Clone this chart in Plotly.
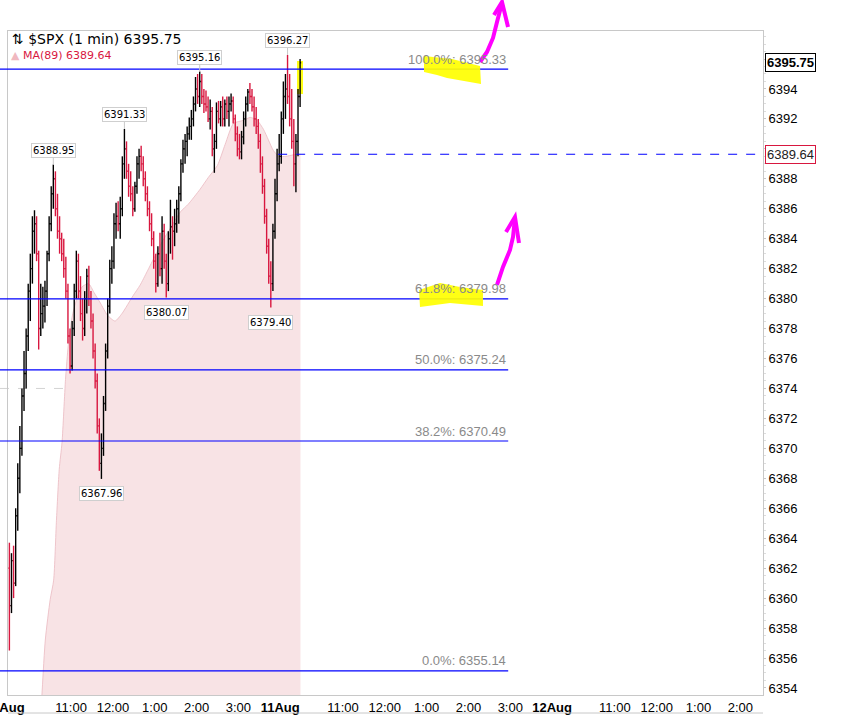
import plotly.graph_objects as go

# ---------------- data ----------------
day1_bars = 130          # 3-minute bars read from 8Aug session
day2_bars = 10           # 3-minute bars read from 11Aug session start
bar_minutes = [i * 3 + 1.5 for i in range(day1_bars)] + [390 + j * 3 + 1.5 for j in range(day2_bars)]

opens = [6362, 6359.5, 6362.5, 6361, 6365.5, 6368, 6370, 6373.5, 6375, 6377.5,
         6380.5, 6382, 6384.5, 6385, 6383, 6378, 6379, 6379.5, 6380.5, 6383,
         6385, 6387, 6388, 6386, 6384.5, 6384, 6383, 6382, 6380.5, 6377.5,
         6375.5, 6378, 6380.5, 6382.5, 6380.5, 6379, 6378, 6380, 6381.5, 6380,
         6378.5, 6376.5, 6374.5, 6371.5, 6369, 6370, 6373, 6376.5, 6379.5, 6382,
         6382.5, 6385, 6385.5, 6385, 6386, 6389, 6390, 6388.5, 6387.5, 6387,
         6386, 6387.5, 6389, 6389.5, 6389, 6388, 6387, 6386, 6385, 6384,
         6382.5, 6381, 6383, 6382, 6384.5, 6382.5, 6381, 6384, 6384.8, 6384.5,
         6385, 6386, 6387, 6389, 6390, 6390.5, 6391, 6391.5, 6392, 6393,
         6394, 6393.5, 6394.5, 6393.5, 6393, 6392.8, 6392, 6392.5, 6390, 6390.5,
         6392.5, 6392, 6392.8, 6392, 6393, 6392.5, 6393, 6393.2, 6392, 6391,
         6390, 6389.8, 6390.8, 6392, 6393, 6393.8, 6393.5, 6392.8, 6392, 6391.5,
         6390.5, 6389, 6387.5, 6385.5, 6383.5, 6381.5, 6381, 6384.5, 6387, 6389,
         6389.5, 6392, 6393.5, 6394, 6393.5, 6392, 6390.5, 6389, 6390.5, 6393.5]
highs = [6363.7, 6363, 6363.5, 6366, 6369, 6371.5, 6374, 6376.5, 6378, 6381,
         6383, 6385.5, 6385.9, 6385.5, 6383.2, 6381, 6380.8, 6381.2, 6383.2, 6385.5,
         6387.5, 6388.95, 6388.5, 6387, 6385.5, 6384.4, 6384, 6382.8, 6381, 6378,
         6378.5, 6381, 6383.2, 6383, 6381.5, 6380, 6380.5, 6382, 6382.2, 6380.5,
         6379, 6377, 6375, 6372, 6371, 6373.5, 6377, 6380, 6382.6, 6383.5,
         6385.7, 6386.4, 6386.5, 6386.8, 6389.5, 6391.33, 6390.5, 6389, 6388.5, 6387.5,
         6387.8, 6389.5, 6390, 6390.2, 6389.5, 6388.5, 6387.5, 6386.5, 6385.7, 6384.5,
         6383, 6383.5, 6384.4, 6385.5, 6385, 6383, 6384.5, 6386.6, 6385.5, 6386,
         6386.6, 6387.5, 6389.3, 6390.6, 6391, 6391.5, 6392.1, 6392.6, 6393.5, 6394.8,
         6395, 6395.16, 6395, 6394, 6393.9, 6393.5, 6393.3, 6392.8, 6391, 6393.1,
         6393.2, 6393.2, 6393.5, 6393.3, 6393.5, 6393.5, 6393.7, 6393.5, 6392.3, 6391.5,
         6391, 6391.2, 6392.5, 6393.5, 6394, 6394.4, 6394, 6393.5, 6392.8, 6392,
         6391, 6389.5, 6388, 6386, 6384, 6382.5, 6385, 6388, 6390, 6391,
         6392.5, 6394.5, 6395, 6396.27, 6395, 6394, 6392, 6391, 6394, 6396]
lows = [6356.5, 6359, 6360, 6360.8, 6364.5, 6367, 6369.5, 6372.5, 6374, 6376.5,
        6378.5, 6381, 6383, 6382.5, 6376.6, 6377.5, 6378, 6378.4, 6379.5, 6382.5,
        6384.5, 6386, 6385.5, 6384, 6383, 6382.5, 6381.4, 6380, 6377, 6375,
        6375.2, 6377.5, 6380, 6380, 6378.5, 6377.2, 6377.5, 6379, 6379.5, 6378,
        6376, 6374, 6371, 6368.5, 6367.96, 6369.5, 6372.5, 6376, 6379, 6381,
        6382, 6384, 6384.5, 6384, 6385.5, 6388, 6388, 6386.8, 6386.5, 6385.5,
        6385.8, 6387, 6388, 6388.5, 6387.5, 6386.5, 6385.5, 6384.5, 6383.5, 6382,
        6380.4, 6380.8, 6381.5, 6381, 6382, 6380.07, 6380.5, 6383, 6382.6, 6383.5,
        6384.4, 6385, 6386.5, 6388.4, 6389, 6389.5, 6390.6, 6390.6, 6391.5, 6392.5,
        6393, 6392.8, 6393, 6392.4, 6392.5, 6391.8, 6391.3, 6389.5, 6388.4, 6390,
        6391.7, 6391.5, 6391.5, 6391.5, 6392, 6391.5, 6392.5, 6391.7, 6390.5, 6389.5,
        6389.3, 6389.3, 6390.3, 6391.5, 6392.5, 6393, 6392.5, 6391.5, 6391, 6390,
        6388.4, 6387, 6385, 6383, 6381, 6379.4, 6380.5, 6384, 6386.5, 6388.5,
        6389, 6391, 6392, 6393, 6391.5, 6390, 6387.5, 6387.1, 6389.5, 6392.8]
closes = [6359.5, 6362.5, 6361, 6365.5, 6368, 6370, 6373.5, 6375, 6377.5, 6380.5,
          6382, 6384.5, 6385, 6383, 6378, 6379, 6379.5, 6380.5, 6383, 6385,
          6387, 6388, 6386, 6384.5, 6384, 6383, 6382, 6380.5, 6377.5, 6375.5,
          6378, 6380.5, 6382.5, 6380.5, 6379, 6378, 6380, 6381.5, 6380, 6378.5,
          6376.5, 6374.5, 6371.5, 6369, 6370, 6373, 6376.5, 6379.5, 6382, 6382.5,
          6385, 6385.5, 6385, 6386, 6389, 6390, 6388.5, 6387.5, 6387, 6386,
          6387.5, 6389, 6389.5, 6389, 6388, 6387, 6386, 6385, 6384, 6382.5,
          6381, 6383, 6382, 6384.5, 6382.5, 6381, 6384, 6384.8, 6384.5, 6385,
          6386, 6387, 6389, 6390, 6390.5, 6391, 6391.5, 6392, 6393, 6394,
          6393.5, 6394.5, 6393.5, 6393, 6392.8, 6392, 6392.5, 6390, 6390.5, 6392.5,
          6392, 6392.8, 6392, 6393, 6392.5, 6393, 6393.2, 6392, 6391, 6390,
          6389.8, 6390.8, 6392, 6393, 6393.8, 6393.5, 6392.8, 6392, 6391.5, 6390.5,
          6389, 6387.5, 6385.5, 6383.5, 6381.5, 6381, 6384.5, 6387, 6389, 6389.5,
          6392, 6393.5, 6394, 6393.5, 6392, 6390.5, 6389, 6390.5, 6393.5, 6395.75]

ma_minutes = [47, 53, 60, 65, 69, 73, 77, 82, 86, 92, 99, 106, 115, 123, 132, 142, 153, 163, 179, 189,
              199, 211, 222, 235, 247, 258, 275, 287, 300, 311, 323, 337, 347, 357, 366, 373, 380, 388,
              398, 409, 419]
ma_values = [6352.5, 6357.2, 6359.9, 6361.2, 6365.2, 6368.6, 6370.4, 6374.6, 6376.9, 6378.9, 6380.1,
             6380.8, 6381.0, 6380.4, 6379.7, 6378.9, 6378.5, 6379.0, 6380.2, 6380.9, 6381.8, 6382.9,
             6383.9, 6384.9, 6385.8, 6386.3, 6387.3, 6388.1, 6388.9, 6390.3, 6391.7, 6391.9, 6392.1,
             6391.9, 6391.3, 6390.6, 6389.9, 6389.5, 6389.5, 6389.6, 6389.64]

last_price = 6395.75
ma_last = 6389.64
ref_level = 6374.0

fib_pcts = ["100.0%", "61.8%", "50.0%", "38.2%", "0.0%"]
fib_levels = [6395.33, 6379.98, 6375.24, 6370.49, 6355.14]
fib_end_minute = 717

high_label_bars = [21, 55, 91, 133]
low_label_bars = [44, 75, 125]

tick_minutes = [0, 90, 150, 210, 270, 330, 390, 480, 540, 600, 660, 720, 780, 870, 930, 990, 1050]
tick_labels = ["<b>8Aug</b>", "11:00", "12:00", "1:00", "2:00", "3:00", "<b>11Aug</b>", "11:00", "12:00",
               "1:00", "2:00", "3:00", "<b>12Aug</b>", "11:00", "12:00", "1:00", "2:00"]
y_ticks = list(range(6354, 6398, 2))
y_hidden_ticks = [6390, 6396]   # covered by the price flags in the reference

# ---------------- figure ----------------
W, H = 863, 717
ML, MR, MT, MB = 8, 100, 31, 22
PW, PH = W - ML - MR, H - MT - MB
RED = "#d8173f"
GRAYLINE = "#c8c8c8"
XRANGE = [-0.5, 1082.5]
YRANGE = [6353.53, 6397.87]
TICK = 1.5   # half-width of open/close ticks, in minutes
X_LEFT_PAPER = -ML / PW   # lines run out to the window edge


def xpaper(minute):
    return (minute - XRANGE[0]) / (XRANGE[1] - XRANGE[0])


def px(x, y):
    return ((x - ML) / PW, (H - MB - y) / PH)


def path(points, close=False):
    pts = [px(x, y) for x, y in points]
    s = "M " + " L ".join(f"{a:.4f},{b:.4f}" for a, b in pts)
    return s + (" Z" if close else "")


fig = go.Figure()

fig.add_trace(go.Scatter(
    x=ma_minutes, y=ma_values, mode="lines", fill="tozeroy",
    line=dict(color="rgba(236,192,198,0.9)", width=1, shape="spline", smoothing=0.6),
    fillcolor="rgba(248,227,229,1)", hoverinfo="skip", showlegend=False))

# OHLC bars drawn as line segments so they sit above the MA area
up_x, up_y, dn_x, dn_y = [], [], [], []
for t, o, h, l, c in zip(bar_minutes, opens, highs, lows, closes):
    xs = [t, t, None, t - TICK, t, None, t, t + TICK, None]
    ys = [l, h, None, o, o, None, c, c, None]
    if c >= o:
        up_x += xs; up_y += ys
    else:
        dn_x += xs; dn_y += ys
fig.add_trace(go.Scatter(x=dn_x, y=dn_y, mode="lines", line=dict(color=RED, width=1.4),
                         hoverinfo="skip", showlegend=False))
fig.add_trace(go.Scatter(x=up_x, y=up_y, mode="lines", line=dict(color="#000000", width=1.4),
                         hoverinfo="skip", showlegend=False))

shapes = []
shapes.append(dict(type="line", xref="paper", yref="y", x0=X_LEFT_PAPER, x1=xpaper(315),
                   y0=ref_level, y1=ref_level, line=dict(color="#d4d4d4", width=1, dash="dash"), layer="below"))
for lvl in fib_levels:
    shapes.append(dict(type="line", xref="paper", yref="y", x0=X_LEFT_PAPER, x1=xpaper(fib_end_minute),
                       y0=lvl, y1=lvl, line=dict(color="#0000ff", width=1.2), layer="above"))
shapes.append(dict(type="line", xref="x", yref="y", x0=387, x1=XRANGE[1], y0=ma_last, y1=ma_last,
                   line=dict(color="#0000ff", width=1.2, dash="dash"), layer="above"))
# bottom line of time-label strip
shapes.append(dict(type="line", xref="paper", yref="paper", x0=0, x1=1, y0=px(0, 713)[1], y1=px(0, 713)[1],
                   line=dict(color=GRAYLINE, width=1)))
# hand-drawn highlighter marks
YEL = "rgba(255,255,0,0.92)"
shapes.append(dict(type="path", xref="paper", yref="paper", layer="above",
                   path=path([(424, 56), (452, 59), (480, 66), (481, 84), (447, 78), (437, 75), (424, 72)], True),
                   fillcolor=YEL, line=dict(width=0)))
shapes.append(dict(type="path", xref="paper", yref="paper", layer="above",
                   path=path([(419, 290), (440, 283), (460, 287), (483, 290), (483, 306), (450, 303), (420, 307)], True),
                   fillcolor=YEL, line=dict(width=0)))
shapes.append(dict(type="path", xref="paper", yref="paper", layer="below",
                   path=path([(297, 61), (303, 61), (303, 94), (297, 94)], True),
                   fillcolor=YEL, line=dict(width=0)))
# hand-drawn magenta arrows
MAG = "#ff00ff"
for pts in ([(480, 62), (487, 52), (493, 38), (497, 22), (502, 3)],
            [(494, 15), (502, 2), (508, 27)],
            [(497, 285), (503, 267), (510, 250), (513, 237), (515, 218)],
            [(506, 232), (515, 217), (519, 243)]):
    shapes.append(dict(type="path", xref="paper", yref="paper", path=path(pts),
                       line=dict(color=MAG, width=4)))

ann = []
# fib labels
for pct, lvl in zip(fib_pcts, fib_levels):
    ann.append(dict(x=fib_end_minute, y=lvl, xref="x", yref="y", text=f"{pct}: {lvl:.2f}",
                    showarrow=False, xanchor="right", yanchor="middle", yshift=10,
                    font=dict(family="Liberation Sans, Arial", size=13, color="#8a8a8a")))
# high / low callouts
for k in high_label_bars:
    ann.append(dict(x=bar_minutes[k], y=highs[k], xref="x", yref="y", text=f"{highs[k]:.2f}",
                    showarrow=True, ax=0, ay=-14, arrowhead=0, arrowwidth=1, arrowcolor="#c8c8c8",
                    bgcolor="white", bordercolor="#cfcfcf", borderwidth=1, borderpad=1,
                    font=dict(family="DejaVu Sans, Verdana", size=10, color="#000000")))
for k in low_label_bars:
    ann.append(dict(x=bar_minutes[k], y=lows[k], xref="x", yref="y", text=f"{lows[k]:.2f}",
                    showarrow=True, ax=0, ay=15, arrowhead=0, arrowwidth=1, arrowcolor="#c8c8c8",
                    bgcolor="white", bordercolor="#cfcfcf", borderwidth=1, borderpad=1,
                    font=dict(family="DejaVu Sans, Verdana", size=10, color="#000000")))
# legend-like header
hx, hy = px(10, 39)
ann.append(dict(x=hx, y=hy, xref="paper", yref="paper", xanchor="left", yanchor="middle", showarrow=False,
                text=f"⇅ $SPX (1 min) {last_price:.2f}",
                font=dict(family="DejaVu Sans, Verdana", size=14, color="#000000")))
hx2, hy2 = px(9, 55)
ann.append(dict(x=hx2, y=hy2, xref="paper", yref="paper", xanchor="left", yanchor="middle", showarrow=False,
                text=f"<span style='color:#f0b8bf'>▲</span> MA(89) {ma_last:.2f}",
                font=dict(family="DejaVu Sans, Verdana", size=11, color=RED)))
# right-axis price flags
ann.append(dict(x=1.0, y=last_price, xref="paper", yref="y", xanchor="left", yanchor="middle", xshift=2,
                showarrow=False, text=f"<b>{last_price:.2f}</b>", bgcolor="white", bordercolor="#000000",
                borderwidth=1, borderpad=1, font=dict(family="Liberation Sans, Arial", size=13, color="#000000")))
ann.append(dict(x=1.0, y=ma_last, xref="paper", yref="y", xanchor="left", yanchor="middle", xshift=2,
                showarrow=False, text=f"{ma_last:.2f}", bgcolor="white", bordercolor=RED,
                borderwidth=1, borderpad=1, font=dict(family="Liberation Sans, Arial", size=13, color="#222222")))

fig.update_layout(
    width=W, height=H, margin=dict(l=ML, r=MR, t=MT, b=MB, autoexpand=False),
    paper_bgcolor="white", plot_bgcolor="white", showlegend=False,
    shapes=shapes, annotations=ann,
    xaxis=dict(range=XRANGE, tickmode="array", tickvals=tick_minutes, ticktext=tick_labels,
               showgrid=False, zeroline=False, showline=True, linecolor=GRAYLINE, mirror=True,
               ticks="", ticklabeloverflow="allow", automargin=False,
               tickfont=dict(family="Liberation Sans, Arial", size=13, color="#000000")),
    yaxis=dict(range=YRANGE, side="right", tickmode="array", tickvals=y_ticks,
               ticktext=["" if v in y_hidden_ticks else str(v) for v in y_ticks],
               showgrid=False, zeroline=False, showline=True, linecolor=GRAYLINE, mirror=True,
               ticks="outside", ticklen=2, tickcolor=GRAYLINE, automargin=False,
               minor=dict(ticks="outside", ticklen=2, dtick=0.5, tickcolor="#dddddd"),
               tickfont=dict(family="Liberation Sans, Arial", size=13, color="#000000")),
)

fig.write_html("out.html", config={"displayModeBar": False, "staticPlot": True},
               post_script="document.body.style.margin='0px';document.body.style.overflow='hidden';")
